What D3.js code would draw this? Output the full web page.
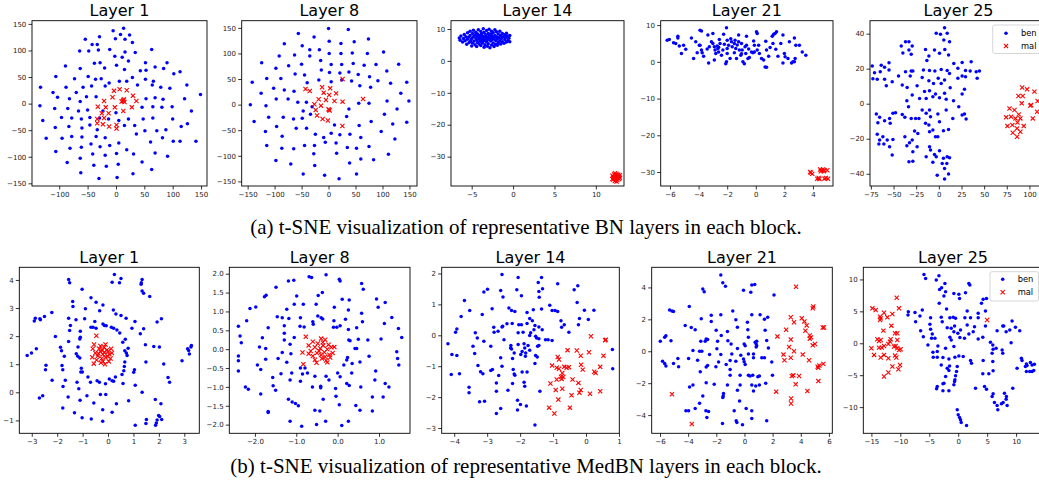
<!DOCTYPE html>
<html><head><meta charset="utf-8">
<script src="https://cdn.jsdelivr.net/npm/d3@7"></script>
<style>body{margin:0;background:#fff}svg{display:block}</style>
</head><body>
<svg id="c" width="1039" height="488"></svg>
<script>
// ---------------- DATA ----------------
const titles = ["Layer 1","Layer 8","Layer 14","Layer 21","Layer 25"];
const legendLabels = ["ben","mal"];
const captionA = "(a) t-SNE visualization of representative BN layers in each block.";
const captionB = "(b) t-SNE visualization of representative MedBN layers in each block.";

const bnTicksX = [[-100,-50,0,50,100,150],[-150,-100,-50,0,50,100,150],[-5,0,5,10],[-6,-4,-2,0,2,4],[-75,-50,-25,0,25,50,75,100]];
const bnTicksY = [[-150,-100,-50,0,50,100,150],[-150,-100,-50,0,50,100,150],[-30,-20,-10,0,10],[-30,-20,-10,0,10],[-40,-20,0,20,40]];
const medTicksX = [[-3,-2,-1,0,1,2,3],[-2,-1,0,1],[-4,-3,-2,-1,0,1],[-6,-4,-2,0,2,4,6],[-15,-10,-5,0,5,10]];
const medTicksY = [[-1,0,1,2,3,4],[-2.0,-1.5,-1.0,-0.5,0.0,0.5,1.0,1.5,2.0],[-3,-2,-1,0,1,2],[-4,-2,0,2,4],[-10,-5,0,5,10]];

const bnDomX = [[-148,160.5],[-161,164],[-7.5,13.4],[-6.65,5.4],[-76,119.4]];
const bnDomY = [[-155,156],[-159,164],[-39.2,12.6],[-33.8,11.2],[-47,47.4]];
const medDomX = [[-3.49,3.59],[-2.62,1.75],[-4.38,1.01],[-6.59,6.24],[-16.4,14.6]];
const medDomY = [[-1.46,4.45],[-2.23,2.17],[-3.17,2.2],[-5.14,5.26],[-14.1,11.9]];

const bn1Ben = [[13.5,142],[-5,137],[8,130],[24,129],[-54,121],[-1,122],[16,121],[29,115],[-29,126],[-42,111],[-33,111],[-11,102],[16,97],[34,96],[63,102],[-64,99],[-48,99],[-31,101],[-2,89],[11,87],[22,80],[90,77],[52,77],[-38,76],[-28,77],[1,72],[-89,71],[-63,66],[-20,67],[15,64],[43,62],[53,63],[69,69],[84,66],[113,60],[102,56],[-106,51],[-73,47],[-49,51],[-36,46],[-26,47],[-12,39],[6,42],[19,42],[29,49],[52,46],[66,42],[-133,31],[-111,21],[-103,12],[-88,31],[-70,21],[-58,31],[-43,33],[-19,33],[38,35],[64,35],[79,31],[95,29],[125,35],[-82,9],[-63,4],[-52,13],[-35,13],[53,9],[69,11],[83,8],[121,9],[149,17],[-134,-4],[-108,-9],[-85,-9],[-66,-14],[-50,-12],[-23,-14],[0,-17],[46,-7],[65,-6],[81,-7],[99,-6],[133,-14],[-129,-32],[-96,-26],[-78,-27],[-61,-29],[-46,-26],[-29,-27],[-13,-29],[5,-32],[22,-29],[48,-29],[65,-27],[100,-29],[126,-38],[-107,-45],[-83,-43],[-60,-46],[-46,-40],[-33,-49],[15,-41],[33,-41],[51,-51],[72,-51],[88,-49],[115,-43],[-123,-65],[-95,-65],[-78,-62],[-60,-63],[-35,-62],[-19,-64],[36,-57],[61,-72],[82,-64],[101,-71],[113,-71],[141,-71],[-81,-84],[-61,-82],[-44,-76],[-28,-81],[-11,-79],[5,-74],[19,-87],[-106,-90],[-41,-95],[-19,-97],[1,-94],[31,-95],[69,-93],[91,-99],[-63,-103],[-86,-111],[-39,-116],[-17,-118],[4,-114],[46,-110],[-62,-130],[30,-132],[63,-124],[-30,-141],[2,-139]];
const bn1Mal = [[12,5],[14,8],[10,4],[15,3],[13,6],[-3.5,24],[6.5,27],[19,25],[30,15],[36,5],[-6,12],[-21,5],[-32,-6],[-18,-7],[-13,-18],[-2,-7],[13,-14],[28,-7],[-25,-18],[-33,-29],[-33,-37],[-21,-27],[-23,-39],[-12,-43],[1,-40],[1,-47]];

const bn8Ben = [[0,149],[36.6,147],[-56,139],[-26.8,132],[1.2,124],[47.6,123],[74,128],[-82,119],[-48.8,115],[23,119.5],[102,103],[-34.8,107],[-17,107],[-91.5,95],[-63,97],[1.2,100],[23,100],[44,101],[72,100],[-124,82],[-97.6,71],[-74,76],[-50,79],[-34.8,95],[-14.6,86],[4.9,78.6],[24.4,78.6],[45.7,80.5],[66,77],[88,78.6],[130,79],[-114.6,51],[-88.4,51],[-62,60],[-44.5,58],[-13.4,67.5],[1.8,63],[21,62],[37.8,64],[55,59],[76,54.5],[108,65.6],[91.5,46.8],[115,41.6],[145,43.5],[-141.5,43.5],[-101.8,31.8],[-82,28.6],[-64,26],[-39.6,42.8],[-18,48],[4.9,44.8],[24.4,48],[42.7,46],[58,37],[78,33.8],[134,22],[-125,22],[-116,-2],[-145,0],[-97,11],[-75,11],[-57,4.5],[-41,4.5],[-47,-12.3],[-30.5,-3.9],[37.8,-8.4],[56,2.6],[75,2.6],[108.5,7],[127,-8.4],[149,7],[-138,-33],[-111,-24.7],[-84,-24.7],[-65,-28],[-48.8,-26.6],[-33.5,-18.8],[11,-39.6],[33.5,-23.4],[56.7,-41],[79,-33],[103.6,-18.8],[119,-38],[145,-34.4],[-117,-52.6],[-96.3,-42.8],[-86,-62],[-60,-46],[-40.8,-46],[-24.4,-57.8],[-9,-64],[4.9,-55.8],[21,-59],[39.6,-57.8],[59.8,-64],[97.6,-52.6],[123,-67],[-114.6,-80],[-86.6,-85],[-64.6,-86],[-44.5,-80],[-26,-80],[-6,-73.4],[14,-75],[34.8,-83.8],[51.8,-85],[75,-82],[-97.6,-109],[-70,-116],[-27.4,-96],[-25.6,-118.8],[15,-95],[39,-114],[59.8,-106],[83.5,-107.8],[111,-96.8],[-47,-135.7],[-7.3,-138],[51.8,-135.7],[19.5,-145]];
const bn8Mal = [[26,50],[-42.7,30.5],[-34.8,26.6],[-12,33.8],[3,31.8],[-9,23.4],[14,22],[1.2,18.8],[-18.3,10.4],[-4.9,9],[11,7],[26,5.8],[64,11],[-26.2,0.6],[-14,-2],[1.2,-10.4],[0,-9],[2,-11.5],[-23.8,-10.4],[-21.3,-21.4],[-11,-28],[-1.2,-31],[25.6,-41.6]];

const bn14Ben = [[-6.5,7.2],[-6.4,6.5],[-6.3,7.8],[-6.1,5.9],[-6.0,7.0],[-5.9,8.3],[-5.8,6.3],[-5.7,7.6],[-5.6,5.2],[-5.5,8.8],[-5.5,6.8],[-5.4,7.3],[-5.3,5.8],[-5.2,9.3],[-5.2,8.0],[-5.1,6.4],[-5.0,7.0],[-5.0,4.7],[-4.9,8.6],[-4.9,5.6],[-4.8,9.6],[-4.8,7.6],[-4.7,6.2],[-4.6,8.1],[-4.6,5.1],[-4.5,7.2],[-4.5,9.0],[-4.4,6.6],[-4.4,4.5],[-4.3,8.4],[-4.3,5.8],[-4.2,7.5],[-4.2,9.8],[-4.1,6.9],[-4.1,5.3],[-4.0,8.0],[-4.0,6.2],[-3.9,9.2],[-3.9,7.2],[-3.9,4.8],[-3.8,8.6],[-3.8,6.6],[-3.7,5.6],[-3.7,7.8],[-3.6,10.1],[-3.6,7.0],[-3.5,8.9],[-3.5,6.3],[-3.5,4.3],[-3.4,7.5],[-3.4,5.1],[-3.3,8.2],[-3.3,6.8],[-3.2,9.5],[-3.2,6.0],[-3.1,7.3],[-3.1,4.6],[-3.0,8.6],[-3.0,6.6],[-3.0,5.4],[-2.9,7.9],[-2.9,9.9],[-2.8,7.0],[-2.8,4.1],[-2.7,8.4],[-2.7,6.2],[-2.6,5.0],[-2.6,9.3],[-2.5,7.5],[-2.5,6.7],[-2.4,8.8],[-2.4,5.6],[-2.3,7.1],[-2.3,4.5],[-2.2,9.8],[-2.2,8.0],[-2.1,6.4],[-2.1,5.2],[-2.0,7.6],[-2.0,9.1],[-1.9,6.9],[-1.9,4.9],[-1.8,8.4],[-1.8,5.8],[-1.7,7.3],[-1.6,9.3],[-1.6,6.3],[-1.5,8.0],[-1.5,5.3],[-1.4,7.0],[-1.3,8.6],[-1.3,6.0],[-1.2,7.6],[-1.1,5.5],[-1.0,8.2],[-1.0,6.7],[-0.9,7.3],[-0.8,5.9],[-0.8,8.7],[-0.7,7.8],[-0.6,6.4],[-0.5,7.1],[-0.4,8.0],[-0.4,6.0],[-3.6,7.4],[-3.3,7.7],[-4.0,7.4],[-2.7,7.3],[-3.0,7.2],[-3.8,6.0],[-2.6,8.0],[-4.3,7.8]];
const bn14Mal = [[12.0,-36.0],[12.1,-37.2],[12.2,-35.6],[12.2,-36.8],[12.3,-36.3],[12.3,-37.6],[12.4,-35.9],[12.4,-36.9],[12.5,-36.4],[12.5,-35.4],[12.6,-37.3],[12.6,-36.1],[12.7,-36.7],[12.7,-35.7],[12.8,-37.0],[12.8,-36.3],[12.9,-36.6],[12.1,-36.5],[12.5,-37.8],[12.3,-35.2],[12.9,-35.8],[12.0,-37.0]];

const bn21Ben = [[-6.2,5.9],[-6.05,6.1],[-5.75,5.2],[-5.6,5],[-5.45,7],[-5.45,6.5],[-5.35,4.3],[-5.2,2.3],[-5.05,4.5],[-4.9,3.4],[-4.5,6.5],[-4.35,0.9],[-4.2,5.5],[-4.1,2.5],[-3.9,8.6],[-3.8,8.4],[-3.95,4.5],[-3.9,4.5],[-3.8,3.2],[-3.75,2.5],[-3.65,1.5],[-3.35,7.3],[-3.25,4.1],[-3.3,-0.3],[-3.1,5.5],[-3,7.7],[-3,5],[-2.9,4.1],[-2.85,3.2],[-2.8,2.3],[-2.9,0.5],[-2.7,4.3],[-2.65,3.6],[-2.6,2.7],[-2.55,6.1],[-2.5,5],[-2.4,1.8],[-2.3,3.2],[-2.25,7.5],[-2.1,-0.5],[-2.05,9.3],[-2.05,0],[-2,5.9],[-2,3.6],[-2,2.3],[-1.9,4.5],[-1.8,0.9],[-1.75,6.3],[-1.7,5.5],[-1.65,4.1],[-1.5,2.5],[-1.5,5],[-1.45,5.9],[-1.4,3.6],[-1.35,0.9],[-1.2,7.3],[-1.2,5.5],[-1.15,3.2],[-1.05,1.8],[-1,5],[-0.95,3.2],[-0.9,0],[-0.8,-0.5],[-0.75,4.1],[-0.7,2.3],[-0.65,7],[-0.65,4.5],[-0.55,0.9],[-0.45,1.2],[-0.3,2.7],[-0.2,2.5],[-0.1,2.7],[-0.15,5.7],[-0.1,4.5],[0.05,8.2],[0.1,7.7],[0.2,4.5],[0.1,3.2],[0.25,2.3],[0.4,0.9],[0.55,0.5],[0.65,-1.4],[0.75,-1.5],[0.7,5.6],[0.75,3.2],[0.9,1.5],[1,3.9],[1.15,7],[1.25,7.5],[1.35,7.7],[1.45,8.2],[1.2,5],[1.4,3.4],[1.55,1.5],[1.75,5],[1.9,7.3],[1.9,-0.3],[2,2.3],[2.05,1.4],[2.25,0.9],[2.35,5.5],[2.5,-0.3],[2.6,0],[2.7,0],[2.75,0.9],[2.7,6.5],[2.8,4.5],[3.05,4.5],[3.25,2.7],[3.5,1.8],[-2.6,4.0],[-1.3,4.6],[-0.5,3.5],[-3.4,3.5],[-2.2,4.8],[-1.0,2.2]];
const bn21Mal = [[3.8,-30.0],[3.95,-30.5],[3.85,-30.2],[4.5,-29.3],[4.6,-29.6],[4.7,-29.3],[4.8,-29.5],[5.0,-29.5],[4.3,-31.8],[4.4,-31.6],[4.45,-31.9],[4.8,-31.8],[4.9,-31.6],[5.05,-31.8],[4.55,-29.8],[4.75,-29.8]];

const bn25Ben = [[-2.9,40.2],[1.8,39.6],[6.3,43.4],[9.2,40.2],[5.5,36.4],[11.8,35.4],[6.6,31],[-4.8,30.7],[0.7,28.8],[10.7,27.8],[-14.7,31],[-11,27.2],[-13.2,24.6],[-41.5,33],[-36.8,35.4],[-33,35.4],[-29.4,33],[-39.7,29],[-33,30.7],[-30.5,28.2],[-73.5,21.5],[-63.6,22],[-59.9,20.8],[-55,23.4],[-71,17.7],[-64.7,18.3],[-55,19.2],[-68,14],[-59.9,13.9],[-51.5,12.6],[-58,10.3],[-72.8,14.3],[-44.5,15.8],[-36.8,18.3],[-31.6,15.8],[-28.7,18.7],[-40.4,10.7],[-35,9.3],[-24,10.3],[-17,19.2],[-10.3,18.9],[-4.4,18.7],[2.6,19.6],[9.2,18.9],[11.8,17.3],[16.5,23],[21,20.2],[25.7,23.6],[35.7,24],[29.4,18.9],[34.6,18.7],[41.2,18.3],[44.8,18.7],[42.3,14.5],[21,14.5],[25.7,15.8],[29.4,15.4],[6.3,13.5],[-0.7,14.5],[-11,13.1],[-18.4,15],[-15.8,6.9],[-10.3,7.4],[-3.7,5.5],[6.3,5.9],[12.5,9.1],[-21.3,3],[-14,3],[-6.6,4],[0.7,3.4],[8.1,2.5],[25.7,5.5],[28.3,8.2],[22,-1.7],[16.2,1.7],[-35.3,1.7],[-29.4,5],[-47.8,-5.1],[-40.4,-6.1],[-33.5,-1.7],[-37.5,-7.8],[-30.5,-8.4],[-25.7,-8.4],[-22,-8.4],[-18.4,-3.6],[-10.3,-3.6],[-14,-5.5],[-9.2,-7.4],[-1.1,-5.9],[8.1,-3.6],[0.7,-10.3],[15.4,-8.4],[25.7,-6.5],[28.3,-5.9],[30.1,-8.8],[-69,-5.9],[-65.4,-7.8],[-67.3,-10.9],[-59.9,-9.7],[-54.4,-8.4],[-50.7,-5.5],[-53.7,-11.2],[-68,-17.5],[-61.8,-18.9],[-65.4,-20.8],[-57,-20.8],[-66.2,-23],[-60.7,-23],[-54.4,-24.6],[-51.5,-29.3],[-50.7,-20.4],[-37.5,-18.9],[-35.3,-24],[-32.4,-22.3],[-29.4,-20.8],[-24,-24.6],[-26.8,-15.6],[-23.2,-17],[-33,-33.1],[-28.7,-32.8],[-28.7,-27.4],[-14,-30.3],[-10.3,-24.6],[-9.2,-26.5],[-3.7,-18.9],[-1.1,-18.9],[-4.8,-29],[0.7,-26.8],[-2.9,-30.3],[5.1,-31.2],[9.2,-30.3],[11.8,-30.9],[8.8,-34.1],[-6.6,-33.5],[3.7,-34.1],[6.3,-37],[-1.8,-40.8],[10.7,-40.2],[6.3,-43],[-10.3,-16],[-14.7,-11.2],[-11,-12.2],[-6.6,-15],[5.1,-15.4],[10.7,-14.7],[-5.9,11.6],[2.6,11.6],[-30.5,18.7]];
const bn25Mal = [[92,9.3],[97.4,8.2],[105.5,6.9],[87.9,4.4],[92.6,4.4],[91.5,0.2],[101,-1.1],[101.8,-0.8],[109,1.5],[103.7,-8.4],[108.5,-4.6],[78,-2.7],[83.5,-3.6],[88.2,-6.1],[74.3,-7.8],[79.8,-7.4],[84.6,-8.4],[75.7,-12.8],[81.2,-12.2],[86.8,-10.7],[90,-8.4],[93.7,-12.8],[86.4,-14.1],[81.6,-16.6],[90,-16],[86.4,-18.9]];

const med1Ben = [[0.25,4.19],[0.51,4.05],[0.16,3.92],[0.45,3.9],[1.34,4.02],[1.31,3.9],[1.3,3.85],[-1.55,4.02],[-1.51,3.9],[-1.02,3.67],[1.34,3.61],[1.4,3.53],[1.64,3.41],[-0.67,3.37],[-0.47,3.21],[-0.2,3.11],[-0.33,2.9],[-1.39,3.23],[-1.38,3.05],[0.21,2.93],[0.31,2.79],[0.51,2.73],[0.71,2.64],[1.06,2.52],[-0.89,2.97],[-2.21,2.84],[-2.5,2.7],[-2.86,2.64],[-2.9,2.54],[-2.68,2.62],[-2.66,2.58],[-1.55,2.64],[-1.26,2.58],[-0.92,2.62],[-0.52,2.52],[-0.2,2.43],[-0.14,2.38],[-0.07,2.37],[-0.67,2.32],[-0.59,2.32],[-0.47,2.28],[0.13,2.32],[0.22,2.28],[0.35,2.22],[0.46,2.11],[0.94,2.28],[1.27,2.08],[1.4,2.26],[1.93,2.5],[2.1,2.62],[-2.07,1.99],[-1.48,2.38],[-1.51,2.2],[-1.09,2.17],[-1.09,1.96],[-1.11,1.9],[-1.55,1.81],[-1.87,1.6],[-1.83,1.48],[-1.72,1.28],[-1.25,1.37],[-1.19,1.28],[-1.11,1.22],[-1.18,1.61],[-2.82,1.55],[-3.18,1.31],[-3.01,1.4],[-2.44,0.96],[-2.46,0.8],[-1.81,0.95],[-1.78,0.8],[-1.05,0.86],[-1.01,0.72],[-1.07,0.72],[-0.79,0.54],[-0.69,0.36],[-0.43,0.41],[-0.34,0.36],[-0.1,0.3],[0.05,0.47],[0.16,0.41],[0.22,0.39],[0.29,0.54],[0.66,1.48],[0.72,1.4],[0.75,1.31],[0.79,1.57],[0.58,1.78],[0.68,1.89],[0.64,0.92],[0.62,0.77],[0.55,0.63],[0.66,1.08],[1.04,0.8],[1.01,0.71],[0.59,0.31],[1.07,0.25],[1.47,1.69],[1.49,1.08],[2.02,1.61],[1.8,1.63],[2.19,1.01],[1.34,0],[-2.2,0.43],[-1.77,0.21],[-1.68,0.43],[-1.22,0.36],[-1.15,0.13],[-0.83,-0.12],[-0.56,-0.38],[-0.3,-0.08],[-0.09,-0.08],[0.33,-0.41],[0.81,-0.3],[-0.21,-0.62],[0.16,-0.71],[-1.57,-0.17],[-1.1,-0.28],[-2.7,-0.2],[-2.57,-0.12],[-1.78,-0.56],[-1.32,-0.73],[-1.02,-0.91],[-0.66,-0.95],[-0.21,-1.03],[1.07,-1.17],[1.51,-0.97],[1.49,-1.11],[1.86,-0.26],[2.08,-0.41],[1.99,-0.83],[1.93,-0.99],[1.9,-1.09],[2.03,-0.86],[2.11,-0.97],[1.87,-1.17],[2.36,0.53],[2.42,0.36],[2.91,1.12],[3.13,1.55],[3.17,1.49],[3.2,1.36],[3.28,1.67],[3.26,1.61]];
const med1Mal = [[-0.46,2.01],[-0.56,1.02],[0.03,1.1],[-0.2,1.35],[-0.3,1.45],[-0.1,1.25],[-0.25,1.2],[-0.05,1.5],[-0.4,1.3],[-0.15,1.6],[-0.35,1.55],[0.05,1.35],[-0.5,1.4],[-0.2,1.1],[0.1,1.2],[-0.3,1.65],[0.0,1.45],[-0.45,1.15],[-0.6,1.55],[-0.1,1.7],[0.12,1.55],[-0.55,1.7],[-0.28,1.05],[-0.15,1.42],[-0.38,1.38],[-0.02,1.28],[-0.22,1.5],[-0.62,1.25],[0.15,1.4],[-0.12,1.0]];

const med8Ben = [[-0.28,1.97],[-0.69,1.92],[-0.63,1.9],[0.06,1.81],[0.04,1.85],[-1.19,1.81],[-1.06,1.83],[-1.49,1.64],[-1.73,1.43],[-1.77,1.39],[0.58,1.74],[0.62,1.59],[-0.37,1.5],[-0.47,1.42],[-0.99,1.41],[0.11,1.32],[0.28,1.3],[0.94,1.33],[1.15,1.24],[0.98,1.11],[-2.12,1.08],[-1.98,1.12],[-1.23,1.06],[-1.05,1.19],[-0.83,1.19],[-0.52,1.19],[-0.08,1.11],[0.26,1.04],[0.58,0.95],[1.31,0.84],[-2.2,0.75],[-1.46,0.86],[-1.34,0.83],[-1.18,0.81],[-0.9,0.83],[-0.6,0.73],[-0.59,0.66],[-0.48,0.88],[-0.4,0.83],[-0.36,0.8],[-0.09,0.75],[0.19,0.79],[0.6,0.73],[1.13,0.68],[-2.4,0.61],[-1.68,0.57],[-1.29,0.62],[-0.91,0.61],[-0.81,0.59],[-0.1,0.58],[-0.02,0.58],[0.06,0.62],[0.26,0.52],[0.46,0.57],[1.47,0.55],[-2.36,0.35],[-1.82,0.3],[-1.29,0.42],[-1.05,0.31],[1.55,0.31],[-2.33,0.17],[-1.89,0.06],[-1.74,0.02],[-1.29,0.24],[-1.15,0.13],[0.27,0.24],[0.3,0.22],[0.5,0.26],[0.73,0.24],[1.05,0.27],[1.43,-0.07],[0.42,0.02],[0.46,0.02],[-2.4,-0.18],[-2.4,-0.31],[-1.74,-0.27],[-1.44,-0.25],[-1.34,-0.09],[-1.13,-0.12],[-1.23,-0.35],[0.76,-0.19],[0.54,-0.34],[0.24,-0.22],[0.22,-0.29],[0.15,-0.42],[0.35,-0.38],[1.45,-0.25],[1.48,-0.42],[-1.94,-0.42],[-1.86,-0.54],[-2.4,-0.58],[-1.37,-0.65],[-1.11,-0.63],[-0.9,-0.5],[-0.79,-0.5],[-0.73,-0.63],[-0.85,-0.66],[-0.55,-0.72],[-0.28,-0.72],[-0.21,-0.82],[0,-0.63],[0.06,-0.73],[0.22,-0.91],[0.34,-0.63],[0.92,-0.58],[-1.57,-0.75],[-1.15,-0.82],[-0.9,-0.85],[-1.56,-0.97],[-1.5,-1.09],[-2.23,-1.0],[-2.16,-1.06],[-0.61,-1.0],[-0.41,-0.98],[-0.41,-1.02],[-0.05,-1.04],[0.28,-0.96],[0.56,-1.0],[1.15,-0.91],[1.24,-1.0],[0.9,-0.82],[-1.86,-1.19],[-1.19,-1.33],[-1.1,-1.4],[-1.02,-1.44],[-0.95,-1.5],[-0.35,-1.33],[-0.04,-1.25],[0.04,-1.47],[0.44,-1.49],[0.84,-1.27],[1.1,-1.27],[-1.68,-1.65],[-1.68,-1.68],[-0.55,-1.62],[-0.43,-1.64],[0.54,-1.62],[0.84,-1.64],[-1.15,-1.91],[-0.29,-1.91],[0.26,-1.91],[-0.87,-2.04],[-0.51,-2.0],[0.1,-2.02]];
const med8Mal = [[-0.77,0.33],[-0.08,0.06],[-0.85,-0.09],[-0.83,-0.4],[-0.51,-0.36],[-0.4,0.28],[-0.3,0.25],[-0.6,0.2],[-0.55,0.05],[-0.45,-0.05],[-0.35,0.1],[-0.25,0.0],[-0.2,-0.15],[-0.3,-0.2],[-0.4,-0.15],[-0.5,-0.1],[-0.65,-0.05],[-0.15,0.05],[-0.22,0.12],[-0.38,-0.25],[-0.28,-0.3],[-0.7,0.1],[-0.48,0.15],[-0.32,-0.08],[-0.18,-0.22],[-0.6,-0.18],[-0.42,0.02],[-0.25,-0.35],[-0.55,-0.28],[-0.12,-0.1],[-0.36,0.18],[-0.7,-0.12]];

const med14Ben = [[-2.55,1.97],[-2.06,1.87],[-1.35,1.87],[-1.45,1.71],[-0.86,1.67],[-0.25,1.6],[-1.32,1.51],[-1.43,1.42],[-2.1,1.47],[-2.59,1.45],[-2.99,1.49],[-3.1,1.4],[-0.36,1.47],[-1.96,1.28],[-1.42,1.23],[-2.52,1.24],[-3.69,1.13],[-0.27,1.06],[-1.1,0.97],[-1.03,0.8],[-0.94,0.8],[-0.86,0.77],[-1.35,0.85],[-1.6,0.83],[-2.34,0.88],[-2.26,0.8],[-2.16,0.77],[-2.85,0.86],[-3.15,0.67],[-3.53,0.8],[-3.79,0.61],[-1.79,0.74],[-0.76,0.47],[-0.66,0.34],[-0.74,0.26],[-0.2,0.54],[-0.23,0.34],[-0.05,0.81],[-0.52,0.1],[-3.92,0.2],[-3.96,0.1],[-3.36,0.08],[-3.3,-0.09],[-3.43,-0.35],[-3.38,-0.59],[-3.1,-0.19],[-2.89,-0.35],[-2.8,0.26],[-2.79,0.1],[-2.55,0.27],[-2.53,0.29],[-2.67,0.13],[-2.49,-0.14],[-2.4,0.37],[-2.24,0.38],[-2.04,0.34],[-1.96,0.34],[-1.79,0.38],[-1.71,0.54],[-1.63,0.47],[-1.55,0.32],[-1.43,0.27],[-1.33,0.18],[-1.58,0.18],[-2.06,0.08],[-1.91,0.1],[-1.71,-0.01],[-1.68,0.08],[-1.53,-0.03],[-1.5,-0.09],[-1.43,-0.11],[-1.23,-0.14],[-1.15,-0.14],[-1.03,-0.17],[-1.88,-0.27],[-1.86,-0.41],[-1.83,-0.57],[-1.84,-0.68],[-1.76,-0.33],[-1.71,-0.48],[-1.94,-0.52],[-1.98,-0.62],[-2.06,-0.3],[-2.28,-0.33],[-2.29,-0.41],[-2.26,-0.44],[-2.18,-0.57],[-2.23,-0.75],[-2.59,-0.73],[-2.84,-1.11],[-2.55,-1.0],[-2.21,-1.11],[-2.18,-1.25],[-2.16,-1.29],[-1.94,-1.19],[-1.79,-1.19],[-1.53,-0.65],[-1.48,-0.7],[-1.55,-0.91],[-1.47,-0.35],[-1.43,-0.33],[-2.65,-1.3],[-3.2,-1.18],[-3.13,-1.24],[-3.28,-0.98],[-2.89,-1.14],[-3.55,-1.68],[-3.55,-1.86],[-2.72,-1.54],[-2.72,-1.81],[-2.37,-1.78],[-2.23,-1.56],[-1.88,-1.52],[-1.86,-1.65],[-1.4,-1.81],[-2.08,-2.1],[-1.99,-2.24],[-1.81,-2.29],[-2.08,-2.42],[-2.59,-2.37],[-2.72,-2.53],[-3.23,-2.15],[-3.08,-2.13],[-1.55,-2.9],[-4.07,-0.62],[-4.19,-0.27],[-3.92,-0.65],[-4.09,-1.27],[-3.84,-1.24],[0.8,-0.46],[0.81,-1.08],[0.24,0.81],[0.07,0.51]];
const med14Mal = [[0.15,-0.03],[0.58,-0.16],[0.6,-0.14],[-0.56,-0.48],[-0.28,-0.49],[-0.16,-0.66],[0.09,-0.55],[0.53,-0.66],[-0.86,-0.7],[-0.82,-0.78],[-1.03,-0.98],[-0.89,-1.05],[-0.82,-1.08],[-0.66,-1.02],[-0.59,-1.05],[-0.52,-1.03],[-0.72,-1.22],[-0.76,-1.34],[-0.15,-0.95],[-0.1,-1.11],[0.25,-1.18],[0.29,-1.22],[0.43,-1.02],[-1.08,-1.56],[-0.89,-1.43],[-0.74,-1.41],[-0.69,-1.35],[-0.41,-1.43],[-0.23,-1.54],[-0.92,-1.77],[-0.72,-1.73],[-0.44,-1.94],[-0.2,-1.86],[-0.16,-1.77],[0.12,-1.89],[0.43,-1.81],[-0.84,-2.08],[-1.12,-2.34],[-0.96,-2.53],[-0.49,-2.34]];

const med21Ben = [[-1.68,4.77],[-1.54,4.29],[-1.35,4.08],[-0.07,3.83],[0.52,4.15],[0.73,4.19],[0.45,3.69],[2.1,3.52],[-2.96,3.9],[-2.86,3.73],[-5.32,2.59],[-5.15,2.53],[-5.04,2.49],[-3.92,2.8],[-3.07,2.03],[-2.36,2.26],[-2.36,1.87],[-1.68,2.28],[-0.83,2.53],[0.52,2.28],[1.11,2.28],[1.42,2.01],[1.65,2.13],[0.21,1.82],[-0.61,1.97],[-4.21,1.62],[-3.78,1.49],[-3.5,1.35],[-2.01,1.31],[-1.21,1.24],[-1.65,0.99],[-0.5,1.51],[0.24,1.35],[1.47,1.31],[-5.98,0.62],[-5.67,0.87],[-5.58,0.97],[-5.22,0.66],[-3.1,0.62],[-2.79,0.62],[-2.72,0.77],[-2.62,0.73],[-1.91,0.62],[-1.18,0.66],[-0.95,0.46],[-0.02,0.46],[0.76,0.56],[0.83,0.46],[0.87,0.35],[0.83,0.27],[0.87,0.62],[0.28,0.87],[1.58,0.68],[1.7,0.21],[-3.66,0.04],[-3.19,0],[-3.03,0],[-1.96,0.15],[-0.5,0.17],[0.05,0.35],[-2.48,-0.21],[-1.68,-0.21],[-0.9,-0.17],[-0.26,-0.25],[0.28,-0.17],[0.64,-0.17],[-5.82,-0.62],[-5.58,-0.93],[-5.67,-0.77],[-5.04,-0.77],[-4.73,-0.46],[-4.68,-0.97],[-3.97,-0.46],[-3.33,-0.56],[-2.62,-0.89],[-2.72,-0.99],[-3.14,-1.29],[-2.03,-0.97],[-1.84,-0.68],[-1.3,-0.83],[-1.02,-0.58],[-0.61,-0.62],[-0.07,-0.48],[-0.02,-0.66],[0.05,-0.83],[0.64,-0.41],[1.23,-0.41],[1.42,-0.41],[1.94,-0.68],[-1.02,-1.14],[-0.31,-1.51],[0.28,-1.51],[0.4,-1.55],[0.59,-1.51],[0.95,-1.6],[1.06,-1.55],[1.99,-1.51],[-1.02,-1.51],[-2.72,-1.97],[-3.66,-2.11],[-3.9,-2.24],[-2.15,-2.07],[-1.21,-2.11],[-0.31,-2.11],[0.52,-2.11],[0.8,-2.18],[1.06,-2.11],[1.51,-2.01],[-0.5,-2.45],[0.64,-2.49],[-1.49,-2.65],[-1.54,-2.9],[-1.51,-2.8],[-2.96,-2.8],[-3.19,-3.25],[-0.35,-3.11],[-3.5,-3.59],[-4.16,-3.73],[-3.97,-3.73],[-2.74,-3.73],[-2.55,-3.77],[0.12,-3.59],[0.52,-3.73],[-0.73,-3.73],[-0.59,-4.35],[-0.54,-4.46],[-1.56,-4.52],[-0.14,-4.6],[0.52,-4.21],[1.58,-4.35],[-2.67,-4.15]];
const med21Mal = [[3.66,4.04],[4.89,2.8],[4.85,2.69],[3.29,2.13],[4.07,2.07],[3.52,1.82],[4.26,1.87],[4.42,1.62],[2.96,1.35],[4.33,1.28],[4.64,0.99],[4.73,0.87],[4.64,0.79],[5.56,1.49],[5.65,1.49],[2.34,0.93],[3.29,0.73],[3.17,0.27],[2.77,-0.21],[2.84,-0.56],[3.52,0],[3.29,-0.41],[4.14,-0.21],[4.85,0.37],[5.01,0.46],[4.59,-0.56],[5.2,-0.97],[5.32,-0.89],[5.25,-1.04],[5.6,-0.79],[3.36,-1.55],[3.47,-1.51],[3.88,-1.55],[3.64,-2.07],[5.25,-1.87],[4.47,-2.49],[2.25,-2.53],[3.31,-2.96],[3.31,-3.27],[-5.15,-2.69],[-3.74,-4.56]];

const med25Ben = [[-5.92,10.78],[-5.63,10.16],[-3.79,9.9],[-3.33,10.57],[-3.22,8.44],[-2.87,8.7],[-2.3,9.38],[-2.18,8.07],[-2.47,7.4],[-0.75,7.81],[0.11,7.66],[0.23,7.03],[1.26,7.92],[1.84,9.38],[2.01,9.11],[-3.28,6.25],[-2.01,5.36],[-8.62,4.95],[-8.68,4.43],[-7.47,4.84],[-7.36,3.39],[-6.61,4.27],[-6.21,5.2],[-6.49,1.98],[-6.03,1.04],[-5.23,-0.26],[-4.89,2.97],[-4.77,2.19],[-4.48,1.46],[-4.6,0.78],[-4.77,4.01],[-4.02,0.78],[-2.93,4.06],[-2.76,3.39],[-1.9,2.45],[-1.44,4.01],[-1.21,2.34],[-0.86,4.06],[-0.46,3.91],[-0.63,2.71],[-0.75,1.82],[-0.06,1.56],[0.4,2.08],[0.29,0.89],[1.09,0.78],[1.55,2.86],[1.15,4.01],[1.55,5.05],[2.13,4.01],[2.82,2.6],[2.59,1.82],[1.84,1.46],[3.45,4.69],[3.45,4.01],[3.45,0.68],[4.25,0.94],[4.02,6.25],[4.31,6.88],[4.89,7.03],[4.71,5.05],[4.71,2.71],[6.72,1.98],[7.7,2.71],[7.87,2.71],[8.28,1.82],[8.91,2.08],[9.31,3.49],[9.89,2.5],[10.63,1.98],[9.14,0.1],[7.59,-1.04],[7.7,-1.56],[5.98,-0.26],[6.03,-0.94],[5.86,-1.56],[6.55,-0.78],[-3.51,-0.42],[-3.62,-1.3],[-2.18,-0.78],[-1.44,0.94],[-1.21,0.52],[-0.75,-0.52],[-4.37,-1.41],[-4.31,-2.19],[-3.62,-2.19],[-2.64,-2.24],[-2.93,-3.39],[-1.61,-2.45],[-1.49,-3.54],[-0.57,-2.19],[0.11,-1.98],[0.86,-2.08],[2.13,-2.71],[2.3,-3.13],[4.31,-2.71],[5.98,-2.86],[10.92,-2.34],[11.03,-2.71],[11.78,-3.23],[11.61,-3.65],[11.9,-3.49],[12.47,-3.02],[12.76,-3.39],[13.16,-3.28],[12.36,-4.43],[12.76,-4.43],[13.05,-4.27],[11.78,-4.43],[10.17,-3.91],[-1.9,-3.91],[-1.61,-4.27],[-0.17,-3.65],[-0.29,-4.43],[4.25,-4.79],[5.29,-4.79],[6.03,-4.32],[-2.18,-5.21],[-0.46,-5.1],[-0.57,-5.73],[-3.62,-6.77],[-3.74,-7.14],[-2.64,-6.35],[-2.47,-6.25],[-0.75,-6.51],[-0.63,-5.99],[-2.64,-7.45],[-1.61,-7.45],[2.99,-7.03],[4.54,-6.77],[4.89,-7.19],[5.86,-8.33],[6.03,-7.92],[6.26,-9.27],[6.72,-9.74],[6.84,-10.42],[7.47,-9.48],[7.76,-9.27],[7.99,-7.81],[8.33,-8.33],[8.28,-8.75],[8.45,-9.74],[9.43,-7.03],[-0.17,-10.42],[0,-11.2],[0.23,-11.61],[0.4,-11.98],[0.52,-12.4],[1.44,-12.86],[5.57,0.16]];
const med25Mal = [[-14.83,5.47],[-14.25,5.2],[-10.63,7.14],[-10.23,5.47],[-12.82,4.79],[-13.5,4.17],[-13.5,3.65],[-13.39,3.9],[-12.24,4.06],[-11.38,4.58],[-11.55,2.76],[-12.93,1.98],[-10.92,1.56],[-10.52,1.56],[-13.97,0.63],[-13.68,0.36],[-13.39,0.52],[-11.67,0.63],[-11.78,0.26],[-10.52,0.52],[-12.07,-0.1],[-11.09,-0.52],[-10.8,-0.42],[-15,-0.78],[-13.68,-0.68],[-13.22,-0.68],[-12.82,-0.42],[-10.52,-0.78],[-10.23,-1.04],[-9.94,-0.94],[-14.54,-1.82],[-13.39,-2.24],[-12.82,-1.82],[-12.07,-2.34],[-10.92,-1.93],[-10.69,-2.24],[-11.38,-3.65],[-10.06,-3.39],[-10.34,-4.06],[-12.07,-4.58],[-12.82,-5.21],[5,3.65]];

const bnBen = [bn1Ben,bn8Ben,bn14Ben,bn21Ben,bn25Ben];
const bnMal = [bn1Mal,bn8Mal,bn14Mal,bn21Mal,bn25Mal];
const medBen = [med1Ben,med8Ben,med14Ben,med21Ben,med25Ben];
const medMal = [med1Mal,med8Mal,med14Mal,med21Mal,med25Mal];

// ---------------- LAYOUT ----------------
const topX = [[32,207],[241.7,417],[451,624],[660.7,833],[870,1047]];
const botX = [[19.3,199.3],[229.3,410],[441.7,619.3],[651.7,832.3],[863.3,1042.7]];
const topY = [20.7,186], botY = [267.3,433.3];

const svg = d3.select("#c");
const BLUE = "#0000ff", RED = "#ff0000";
const fmtMinus = s => String(s).replace("-", "\u2212");

function drawPanel(id, xr, yr, domX, domY, ticksX, ticksY, ben, mal, title, decimals, legend){
  const x = d3.scaleLinear().domain(domX).range(xr);
  const y = d3.scaleLinear().domain(domY).range([yr[1], yr[0]]);
  const g = svg.append("g");
  const clipId = "clip" + id;
  svg.append("clipPath").attr("id", clipId).append("rect")
    .attr("x", xr[0]).attr("y", yr[0]).attr("width", xr[1]-xr[0]).attr("height", yr[1]-yr[0]);
  const pts = g.append("g").attr("clip-path", `url(#${clipId})`);
  pts.selectAll("circle").data(ben).join("circle")
    .attr("cx", d => x(d[0])).attr("cy", d => y(d[1])).attr("r", 1.75).attr("fill", BLUE);
  pts.selectAll("path").data(mal).join("path")
    .attr("transform", d => `translate(${x(d[0])},${y(d[1])})`)
    .attr("d", "M-2.1,-2.1L2.1,2.1M-2.1,2.1L2.1,-2.1")
    .attr("stroke", RED).attr("stroke-width", 1.1).attr("fill", "none");

  const fmt = v => fmtMinus(decimals ? v.toFixed(decimals) : String(v));
  const ax = g.append("g").attr("transform", `translate(0,${yr[1]})`)
    .call(d3.axisBottom(x).tickValues(ticksX).tickFormat(fmt).tickSize(3.5).tickPadding(2.2));
  const ay = g.append("g").attr("transform", `translate(${xr[0]},0)`)
    .call(d3.axisLeft(y).tickValues(ticksY).tickFormat(fmt).tickSize(3.5).tickPadding(2.2));
  [ax, ay].forEach(a => {
    a.select(".domain").remove();
    a.selectAll("line").attr("stroke", "#000").attr("stroke-width", 0.8);
    a.selectAll("text").attr("font-family", "DejaVu Sans").attr("font-size", 7).attr("fill", "#222");
  });
  g.append("rect").attr("x", xr[0]).attr("y", yr[0]).attr("width", xr[1]-xr[0]).attr("height", yr[1]-yr[0])
    .attr("fill", "none").attr("stroke", "#000").attr("stroke-width", 0.9);
  g.append("text").attr("x", (xr[0]+xr[1])/2).attr("y", yr[0]-4.3)
    .attr("text-anchor", "middle").attr("font-family", "DejaVu Sans").attr("font-size", 16)
    .attr("fill", "#000").text(title);

  if (legend) {
    const lg = g.append("g");
    lg.append("rect").attr("x", legend.x).attr("y", legend.y).attr("width", legend.w).attr("height", legend.h)
      .attr("rx", 2).attr("fill", "#fff").attr("fill-opacity", 0.8).attr("stroke", "#cccccc").attr("stroke-width", 0.8);
    lg.append("circle").attr("cx", legend.mx).attr("cy", legend.y1).attr("r", 1.75).attr("fill", BLUE);
    lg.append("path").attr("transform", `translate(${legend.mx},${legend.y2})`)
      .attr("d", "M-2.1,-2.1L2.1,2.1M-2.1,2.1L2.1,-2.1").attr("stroke", RED).attr("stroke-width", 1.1);
    [legend.y1, legend.y2].forEach((yy, i) => {
      lg.append("text").attr("x", legend.tx).attr("y", yy + 3).attr("font-family", "DejaVu Sans")
        .attr("font-size", 8.3).attr("fill", "#000").text(legendLabels[i]);
    });
  }
}

for (let i = 0; i < 5; i++) {
  drawPanel("t"+i, topX[i], topY, bnDomX[i], bnDomY[i], bnTicksX[i], bnTicksY[i], bnBen[i], bnMal[i], titles[i], 0,
    i === 4 ? {x: 992.7, y: 25, w: 60, h: 28.5, mx: 1006, tx: 1021, y1: 33.3, y2: 46} : null);
  drawPanel("b"+i, botX[i], botY, medDomX[i], medDomY[i], medTicksX[i], medTicksY[i], medBen[i], medMal[i], titles[i], i === 1 ? 1 : 0,
    i === 4 ? {x: 990, y: 271.7, w: 48.5, h: 29.3, mx: 1002.7, tx: 1017.7, y1: 279.3, y2: 292.3} : null);
}

svg.append("text").attr("x", 526).attr("y", 234).attr("text-anchor", "middle")
  .attr("font-family", "Liberation Serif").attr("font-size", 21).attr("fill", "#000").text(captionA);
svg.append("text").attr("x", 526).attr("y", 473).attr("text-anchor", "middle")
  .attr("font-family", "Liberation Serif").attr("font-size", 21).attr("fill", "#000").text(captionB);
</script>
</body></html>
